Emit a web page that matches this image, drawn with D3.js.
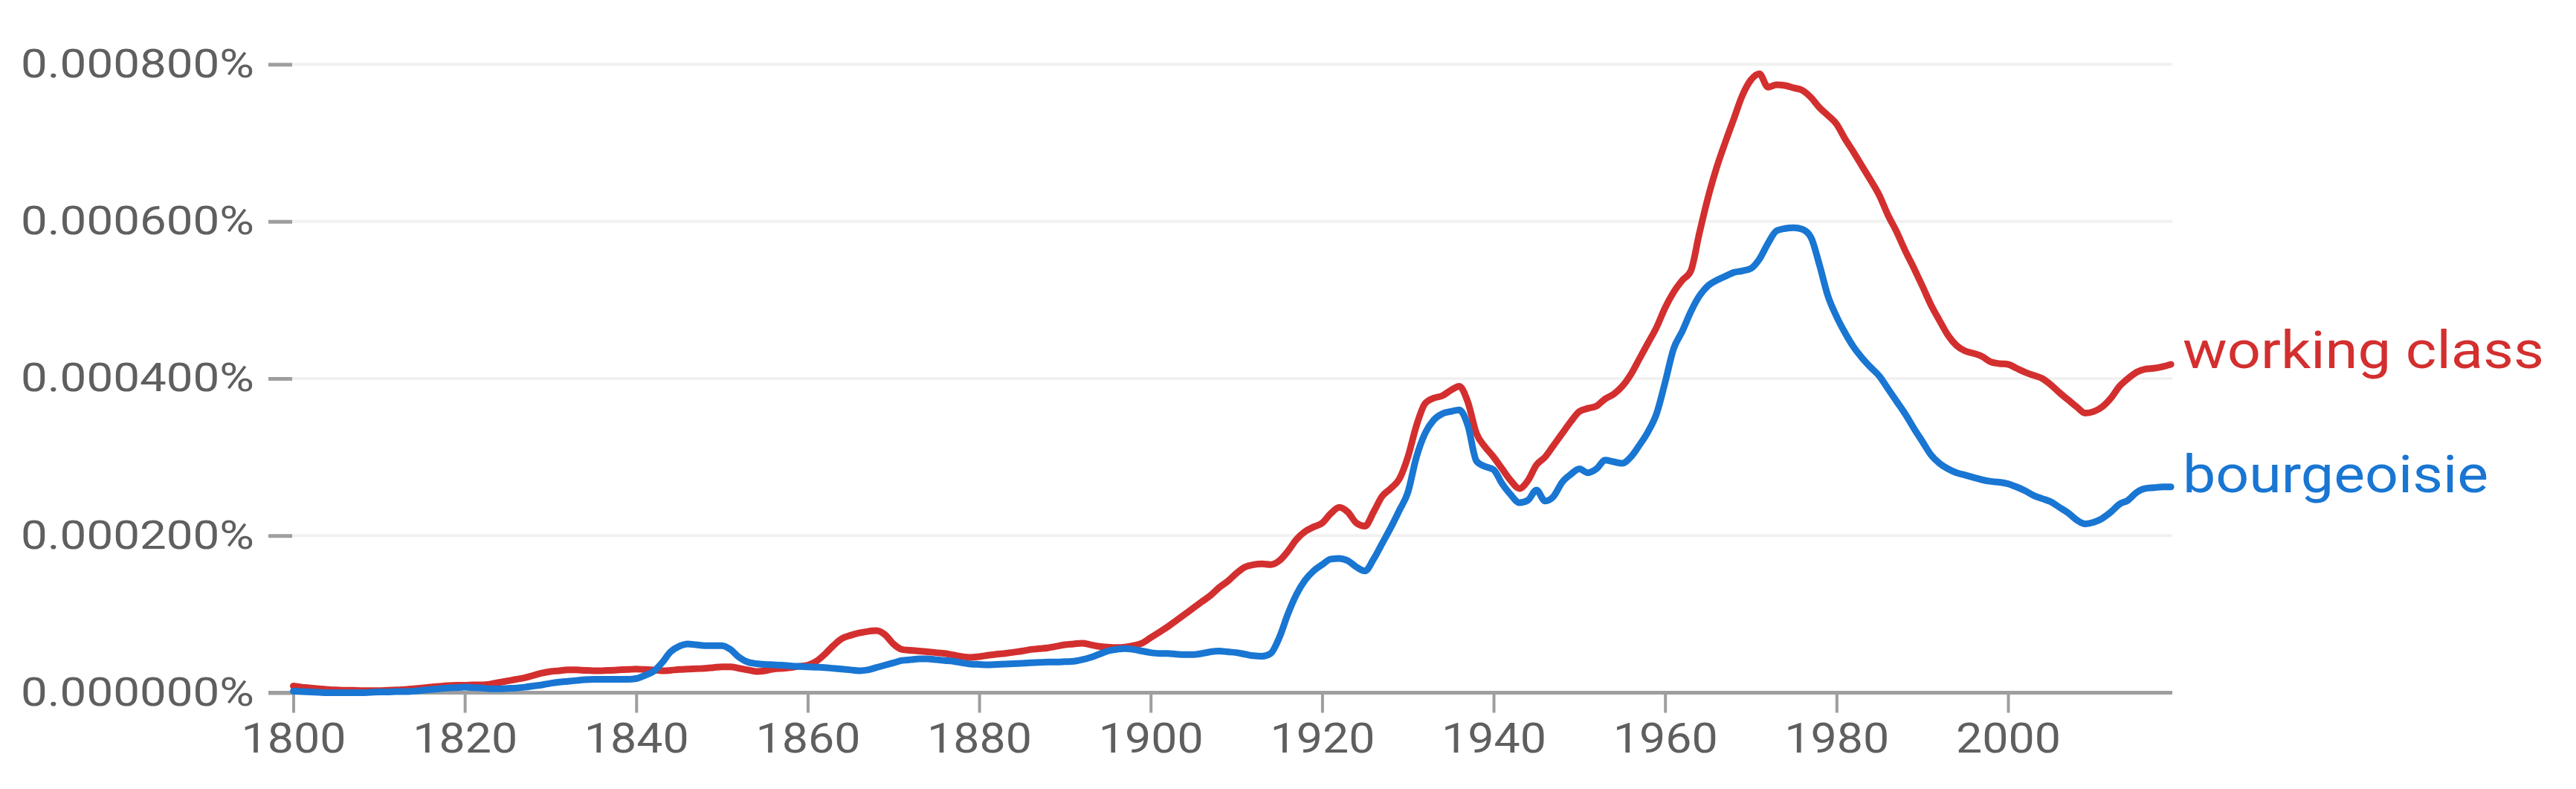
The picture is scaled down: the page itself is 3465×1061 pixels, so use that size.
<!DOCTYPE html>
<html><head><meta charset="utf-8">
<script src="https://cdn.jsdelivr.net/npm/d3@7/dist/d3.min.js"></script>
<style>html,body{margin:0;padding:0;background:#fff;}svg{display:block;}</style>
</head><body>
<svg id="chart" width="3465" height="1061"></svg>
<script>
// values in millionths of a percent (1 = 0.000001%)
const years = d3.range(1800, 2020);
const workingClass = [
8.5,7,6,5,4,3.5,3,3,2.5,2.5, 2.5,3,3.5,4,5,6,7,8,9,9.5,
9.5,10,10,11,13,15,17,19,22,25, 27,28,29,29,28.5,28,28,28.5,29,29.5,
30,29.5,29,28,28.5,29.5,30,30.5,31,32, 33,33,31,29,27,28,30,31,32,33.5,
35,40,49,60,69,73,76,78,79,74, 62,55,54,53,52,51,50,48,46,45,
46,47.5,49,50,51.5,53,55,56,57,59, 61,62,63,61,59,58,57.5,58,60,63,
70,77,84,92,100,108,116,124,134,142, 152,160,163,164,163,168,180,195,205,211,
216,228,236,230,216,212,230,250,260,272, 300,340,368,375,378,385,390,370,330,313,
300,285,270,260,270,290,300,315,330,345, 358,362,365,374,380,390,405,425,445,465,
490,510,525,537,585,630,668,700,730,760, 780,788,771,774,773,770,767,758,745,735,
724,705,688,670,652,633,608,587,563,541, 518,494,474,455,442,435,432,428,421,419,
418,413,408,404,400,392,382,373,364,356, 358,364,375,390,400,408,412,413,415,418
];
const bourgeoisie = [
2,1.5,1,0.5,0,0,0,0,0,0.5, 1,1,1.5,1.5,2,3,4,5,6,6.5,
7,6.5,6,5,5,5.5,6,7,8.5,10, 12,13.5,14.5,15.5,16.5,17,17,17,17,17,
18,22,27,38,52,59,62,61,60,60, 60,55,45,39,37,36,35.5,35,34,33.5,
33,32.5,32,31,30,29,28,29,32,35, 38,41,42,43,43,42,41,40,38,36.5,
36,35.5,36,36.5,37,37.5,38,38.5,39,39, 39.5,40,42,45,49,53,55,56,55,53,
51,50,50,49,48.5,48.5,50,52,53,52, 51,49,47,46.5,50,70,100,125,143,155,
163,170,171,168,160,155,170,190,210,232, 255,300,330,347,355,358,360,340,295,288,
284,266,252,242,245,258,244,250,268,278, 285,280,285,296,294,292,300,315,332,355,
395,438,460,485,505,518,525,530,535,537, 540,552,572,588,591,592,590,580,545,505,
479,458,440,426,414,403,387,371,355,337, 320,303,292,285,280,277,274,271,269,268,
266,262,257,251,247,243,236,229,220,215, 217,222,230,240,245,255,260,261,262,262
];
const seriesNames = ["working class", "bourgeoisie"];
const seriesColors = ["#d32f2f", "#1976d2"];
const yTicks = [0, 200, 400, 600, 800];
const xTicks = d3.range(1800, 2001, 20);

const svg = d3.select("#chart");
const x = d3.scaleLinear().domain([1800, 2000]).range([394.5, 2701]);
const y = d3.scaleLinear().domain([0, 800]).range([931.5, 86.5]);
const axisColor = "#9e9e9e", textColor = "#5f5f5f";
const font = "Roboto, 'Noto Sans', sans-serif";
const plotLeft = 393, plotRight = 2922, tickLeft = 361;

// gridlines
svg.append("g").selectAll("line").data(yTicks.filter(d => d > 0)).join("line")
  .attr("x1", plotLeft).attr("x2", plotRight)
  .attr("y1", d => y(d)).attr("y2", d => y(d))
  .attr("stroke", "#f1f1f1").attr("stroke-width", 4);

// y axis
const yAxis = svg.append("g").attr("transform", `translate(${plotLeft},0)`)
  .call(d3.axisLeft(y).tickValues(yTicks).tickSize(plotLeft - tickLeft).tickPadding(19)
    .tickFormat(d => (d * 1e-6).toFixed(6) + "%"));
yAxis.select(".domain").remove();
yAxis.selectAll(".tick line").attr("stroke", axisColor).attr("stroke-width", 5);
yAxis.selectAll(".tick text").attr("fill", textColor).attr("font-family", font)
  .attr("font-size", 53).attr("textLength", 314).attr("lengthAdjust", "spacingAndGlyphs");

// x axis
const xAxis = svg.append("g").attr("transform", `translate(0,${y(0)})`)
  .call(d3.axisBottom(x).tickValues(xTicks).tickSize(27).tickPadding(14).tickFormat(d3.format("d")));
xAxis.select(".domain").remove();
xAxis.selectAll(".tick line").attr("stroke", axisColor).attr("stroke-width", 4);
xAxis.selectAll(".tick text").attr("fill", textColor).attr("font-family", font)
  .attr("font-size", 56).attr("textLength", 141).attr("lengthAdjust", "spacingAndGlyphs");
svg.append("line").attr("x1", tickLeft).attr("x2", plotRight)
  .attr("y1", y(0)).attr("y2", y(0)).attr("stroke", axisColor).attr("stroke-width", 5);

// lines
const line = d3.line().x((d, i) => x(years[i])).y(d => y(d)).curve(d3.curveMonotoneX);
[workingClass, bourgeoisie].forEach((vals, k) => {
  svg.append("path").datum(vals).attr("d", line)
    .attr("fill", "none").attr("stroke", seriesColors[k]).attr("stroke-width", 9)
    .attr("stroke-linejoin", "round").attr("stroke-linecap", "round");
});

// labels
const labelLen = [486, 411];
[workingClass, bourgeoisie].forEach((vals, k) => {
  svg.append("text").attr("x", 2936).attr("y", y(vals[vals.length - 1]) + (k === 0 ? 5 : 7))
    .attr("fill", seriesColors[k]).attr("font-family", font).attr("font-size", 71)
    .attr("textLength", labelLen[k]).attr("lengthAdjust", "spacingAndGlyphs")
    .text(seriesNames[k]);
});
</script>
</body></html>
